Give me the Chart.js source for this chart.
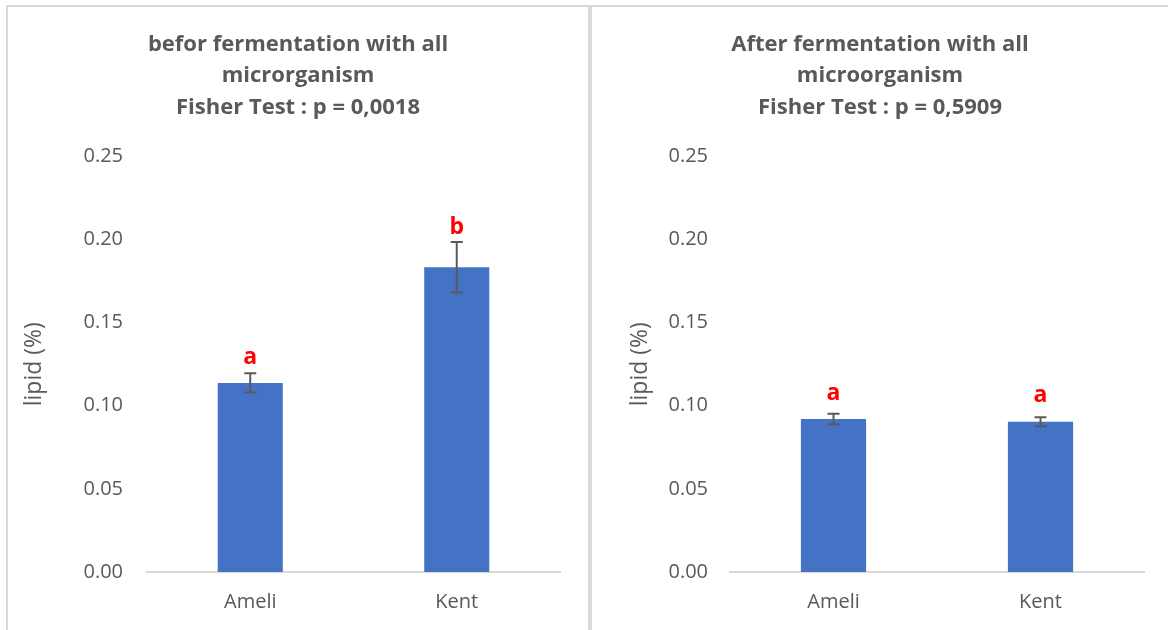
<!DOCTYPE html>
<html>
<head>
<meta charset="utf-8">
<script src="https://cdn.jsdelivr.net/npm/chart.js@4.4.1/dist/chart.umd.min.js"></script>
<style>
  html, body { margin: 0; padding: 0; background: #ffffff; }
  body { width: 1168px; height: 630px; position: relative; overflow: hidden; }
  .panel { position: absolute; top: 5px; height: 640px; box-sizing: border-box; border: 2px solid #d9d9d9; background: #fff; }
  #panelA { left: 6px; width: 584px; }
  #panelB { left: 589px; width: 600px; border-left: 3px solid #d9d9d9; }
  .panel canvas { position: absolute; left: 0; top: 0; }
</style>
</head>
<body>
<div class="panel" id="panelA"><canvas id="chartA" width="580" height="623"></canvas></div>
<div class="panel" id="panelB"><canvas id="chartB" width="576" height="623"></canvas></div>
<script>
// Lipid content (%) by variety, with standard errors and significance letters
const categories = ['Ameli', 'Kent'];

const beforeMeans = [0.1137, 0.1833];
const beforeErr = [0.0058, 0.0152];
const beforeLetters = ['a', 'b'];
const beforeTitle = ['befor fermentation with all', 'microrganism', 'Fisher Test : p = 0,0018'];

const afterMeans = [0.0920, 0.0904];
const afterErr = [0.0032, 0.0027];
const afterLetters = ['a', 'a'];
const afterTitle = ['After fermentation with all', 'microorganism', 'Fisher Test : p = 0,5909'];

const yAxisTitle = 'lipid (%)';

const FONT = "'Open Sans', 'Noto Sans', sans-serif";
const TEXT = '#595959';

// Draws error bars and the significance letters above each bar
const errorLetters = {
  id: 'errorLetters',
  afterDatasetsDraw(chart, args, opts) {
    const { ctx } = chart;
    const ys = chart.scales.y;
    const meta = chart.getDatasetMeta(0);
    opts.means.forEach((m, i) => {
      const x = meta.data[i].x;
      const yHi = ys.getPixelForValue(m + opts.err[i]);
      const yLo = ys.getPixelForValue(m - opts.err[i]);
      const yBar = ys.getPixelForValue(m);
      ctx.save();
      ctx.strokeStyle = '#595959';
      ctx.lineWidth = 2;
      ctx.beginPath();
      ctx.moveTo(x, yHi); ctx.lineTo(x, yLo);
      ctx.moveTo(x - 6, yHi); ctx.lineTo(x + 6, yHi);
      ctx.moveTo(x - 6, yLo); ctx.lineTo(x + 6, yLo);
      ctx.stroke();
      const ly = Math.min(yBar - 26, yHi - 15);
      ctx.fillStyle = '#ff0000';
      ctx.font = "bold 23px " + FONT;
      ctx.textAlign = 'center';
      ctx.textBaseline = 'middle';
      ctx.fillText(opts.letters[i], x, ly);
      ctx.restore();
    });
  }
};

function makeChart(id, title, means, err, letters, yWidth, titlePad, tickPad) {
  const canvas = document.getElementById(id);
  const rightGap = canvas.width - 552;
  return new Chart(canvas, {
    type: 'bar',
    data: {
      labels: categories,
      datasets: [{
        data: means,
        backgroundColor: '#4472c4',
        borderWidth: 0,
        categoryPercentage: 1,
        barPercentage: 0.315
      }]
    },
    options: {
      responsive: false,
      animation: false,
      devicePixelRatio: 1,
      layout: { padding: 0 },
      plugins: {
        legend: { display: false },
        tooltip: { enabled: false },
        title: {
          display: true,
          text: title,
          color: TEXT,
          font: { family: FONT, size: 22, weight: 'bold', lineHeight: 1.43 },
          padding: { top: 22, bottom: 33 }
        },
        errorLetters: { means, err, letters }
      },
      scales: {
        x: {
          grid: { display: false, drawTicks: false },
          border: { display: true, color: '#d9d9d9', width: 2 },
          ticks: { color: TEXT, font: { family: FONT, size: 20 }, padding: 18 },
          afterFit: s => { s.height = 58; }
        },
        y: {
          min: 0, max: 0.25,
          grid: { display: false, drawTicks: false },
          border: { display: false },
          ticks: {
            stepSize: 0.05, color: TEXT, font: { family: FONT, size: 20 }, padding: tickPad,
            callback: v => Number(v).toFixed(2)
          },
          title: {
            display: true, text: yAxisTitle, color: TEXT,
            font: { family: FONT, size: 23 }, padding: { top: titlePad, bottom: 0 }
          },
          afterFit: s => { s.width = yWidth; }
        },
        // empty right-hand margin so the title stays centred on the whole panel
        yGap: {
          position: 'right',
          min: 0, max: 0.25,
          grid: { display: false, drawTicks: false },
          border: { display: false },
          ticks: { display: false },
          afterFit: s => { s.width = rightGap; }
        }
      }
    },
    plugins: [errorLetters]
  });
}

makeChart('chartA', beforeTitle, beforeMeans, beforeErr, beforeLetters, 139, 13, 24);
makeChart('chartB', afterTitle, afterMeans, afterErr, afterLetters, 138, 35, 22);
</script>
</body>
</html>
